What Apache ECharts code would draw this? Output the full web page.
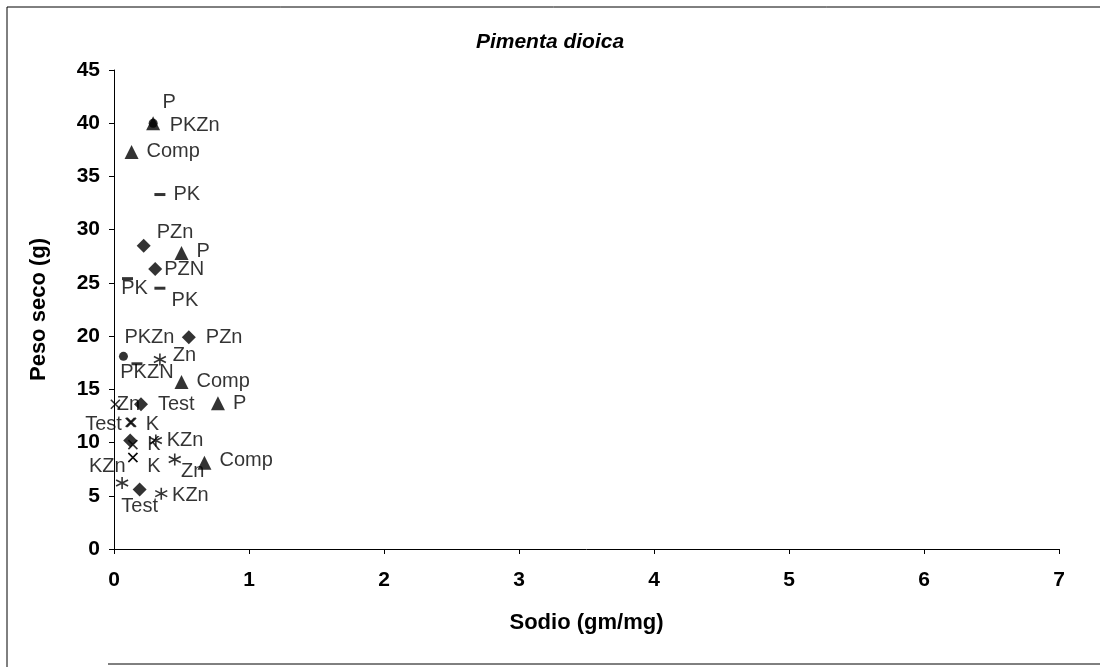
<!DOCTYPE html>
<html><head><meta charset="utf-8">
<script src="https://cdn.jsdelivr.net/npm/echarts@6/dist/echarts.min.js"></script>
<style>html,body{margin:0;padding:0;background:#fff}#c{width:1100px;height:667px}</style>
</head><body><div id="c"></div>
<script>
// Data (Sodio gm/mg, Peso seco g)
const triX = [0.29, 0.13, 0.50, 0.50, 0.77, 0.67];
const triY = [40.0, 37.3, 27.8, 15.7, 13.7, 8.1];
const triLab = ['P', 'Comp', 'P', 'Comp', 'P', 'Comp'];

const diaX = [0.22, 0.305, 0.554, 0.20, 0.12, 0.19];
const diaY = [28.5, 26.3, 19.9, 13.6, 10.2, 5.6];
const diaLab = ['PZn', 'PZN', 'PZn', 'Test', '', 'Test'];

const dashX = [0.34, 0.10, 0.34, 0.17];
const dashY = [33.3, 25.4, 24.5, 17.4];
const dashLab = ['PK', 'PK', 'PK', 'PKZN'];

const cirX = [0.29, 0.07];
const cirY = [40.0, 18.1];
const cirLab = ['PKZn', 'PKZn'];

const astX = [0.34, 0.31, 0.45, 0.06, 0.35];
const astY = [17.8, 10.2, 8.4, 6.2, 5.2];
const astLab = ['Zn', 'KZn', 'Zn', '', 'KZn'];

const xmX = [0.12, 0.13, 0.14, 0.14, 0.14, 0.01];
const xmY = [11.9, 11.9, 9.8, 8.6, 8.6, 13.6];
const xmLab = ['Test', 'K', 'K', 'KZn', 'K', 'Zn'];

const xTicks = [0, 1, 2, 3, 4, 5, 6, 7];
const yTicks = [0, 5, 10, 15, 20, 25, 30, 35, 40, 45];

// Label placement (layout only)
const triPos = [['top', [16, 2]], ['right', [2, 0]], ['right', [2, -2]], ['right', [2, 0]], ['right', [2, 0]], ['right', [2, -2]]];
const diaPos = [['right', [0, -13]], ['right', [-4, 0]], ['right', [4, 0]], ['right', [4, 0]], ['right', [0, 0]], ['inside', [0, 17]]];
const dashPos = [['right', [2, 0]], ['inside', [7, 10]], ['inside', [25, 12]], ['inside', [10, 9]]];
const cirPos = [['right', [6, 2]], ['inside', [26, -19]]];
const astPos = [['right', [0, -4]], ['right', [-2, 0]], ['inside', [18, 12]], ['right', [0, 0]], ['right', [-2, 2]]];
const xmPos = [['left', [3, 2]], ['right', [3, 2]], ['right', [3, 0]], ['left', [4, 9]], ['right', [3, 9]], ['inside', [13, 0]]];

const FF = 'Liberation Sans, Arial, sans-serif';
const LABFONT = {color: '#000', fontFamily: FF, fontSize: 20};

function build(xs, ys, labs, pos) {
  return xs.map((x, i) => ({
    name: labs[i],
    value: [x, ys[i]],
    label: Object.assign({show: labs[i] !== '', position: pos[i][0], offset: pos[i][1], distance: 6, formatter: '{b}'}, LABFONT)
  }));
}

const asterisk = 'path://M10,0L10,20M1.34,5L18.66,15M1.34,15L18.66,5';
const xmark = 'path://M0,0L20,20M0,20L20,0';

function ser(name, data, symbol, size, stroke) {
  return {
    name, type: 'scatter', data, symbol, symbolSize: size,
    itemStyle: stroke ? {color: 'rgba(0,0,0,0)', borderColor: '#000', borderWidth: 1.6} : {color: '#000'},
    emphasis: {disabled: true},
    z: 3
  };
}

const chart = echarts.init(document.getElementById('c'), null, {renderer: 'canvas'});
chart.setOption({
  animation: false,
  backgroundColor: '#fff',
  title: {
    text: 'Pimenta dioica', left: 'center', top: 27,
    textStyle: {fontFamily: FF, fontSize: 21, fontWeight: 'bold', fontStyle: 'italic', color: '#000'}
  },
  grid: {left: 114, right: 41, top: 70, bottom: 118},
  xAxis: {
    type: 'value', min: xTicks[0], max: xTicks[xTicks.length - 1], interval: 1,
    name: 'Sodio (gm/mg)', nameLocation: 'middle', nameGap: 63,
    nameTextStyle: {fontFamily: FF, fontSize: 22, fontWeight: 'bold', color: '#000'},
    axisLine: {show: true, lineStyle: {color: '#000', width: 1}},
    axisTick: {show: true, length: 5, lineStyle: {color: '#000'}},
    axisLabel: {margin: 21, fontFamily: FF, fontSize: 21, fontWeight: 'bold', color: '#000'},
    splitLine: {show: false}
  },
  yAxis: {
    type: 'value', min: yTicks[0], max: yTicks[yTicks.length - 1], interval: 5,
    name: 'Peso seco (g)', nameLocation: 'middle', nameGap: 64, nameRotate: 90,
    nameTextStyle: {fontFamily: FF, fontSize: 22, fontWeight: 'bold', color: '#000'},
    axisLine: {show: true, lineStyle: {color: '#000', width: 1}},
    axisTick: {show: true, length: 5, lineStyle: {color: '#000'}},
    axisLabel: {margin: 14, fontFamily: FF, fontSize: 21, fontWeight: 'bold', color: '#000'},
    splitLine: {show: false}
  },
  graphic: [
    {type: 'line', shape: {x1: 7, y1: 7, x2: 1100, y2: 7}, style: {stroke: '#000', lineWidth: 1}},
    {type: 'line', shape: {x1: 7, y1: 7, x2: 7, y2: 667}, style: {stroke: '#000', lineWidth: 1}},
    {type: 'line', shape: {x1: 108, y1: 664, x2: 1100, y2: 664}, style: {stroke: '#000', lineWidth: 1}}
  ],
  series: [
    ser('Triángulo', build(triX, triY, triLab, triPos), 'triangle', 14, false),
    ser('Rombo', build(diaX, diaY, diaLab, diaPos), 'diamond', 14, false),
    ser('Guion', build(dashX, dashY, dashLab, dashPos), 'rect', [11, 3], false),
    ser('Círculo', build(cirX, cirY, cirLab, cirPos), 'circle', 9, false),
    ser('Asterisco', build(astX, astY, astLab, astPos), asterisk, 12, true),
    ser('Equis', build(xmX, xmY, xmLab, xmPos), xmark, 9, true)
  ]
});
</script>
</body></html>
